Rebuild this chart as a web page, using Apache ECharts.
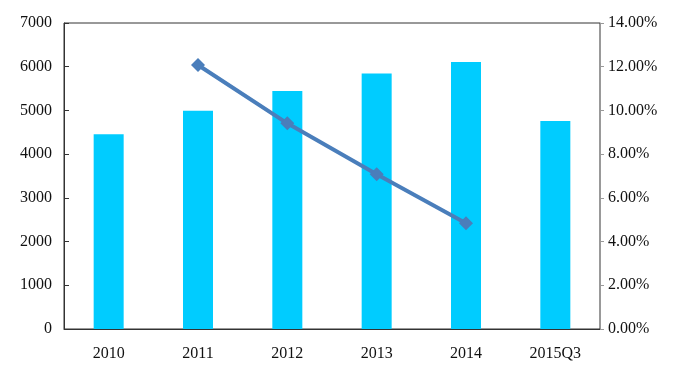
<!DOCTYPE html>
<html><head><meta charset="utf-8">
<script src="https://cdn.jsdelivr.net/npm/echarts@6/dist/echarts.min.js"></script>
<style>html,body{margin:0;padding:0;background:#fff}#c{width:680px;height:371px}</style>
</head><body><div id="c"></div>
<script>
const categories = ['2010','2011','2012','2013','2014','2015Q3'];
const barValues = [4455, 4990, 5445, 5845, 6110, 4760];
const growthValues = [null, 12.08, 9.41, 7.08, 4.84, null];
const leftTicks = [0, 1000, 2000, 3000, 4000, 5000, 6000, 7000];
const rightTicks = [0, 2, 4, 6, 8, 10, 12, 14];

const font = '"Liberation Serif", "Times New Roman", serif';
const chart = echarts.init(document.getElementById('c'));
chart.setOption({
  animation: false,
  grid: {left: 64, right: 80, top: 23, bottom: 42, containLabel: false, outerBoundsMode: 'none',
         show: true, borderColor: '#333', borderWidth: 1},
  xAxis: {
    type: 'category', data: categories, boundaryGap: true,
    axisLine: {lineStyle: {color: '#333', width: 1}},
    axisTick: {inside: true, length: 5, lineStyle: {color: '#333'}},
    axisLabel: {color: '#111', fontFamily: font, fontSize: 16, margin: 17}
  },
  yAxis: [{
    type: 'value', min: leftTicks[0], max: leftTicks[leftTicks.length-1], interval: 1000,
    axisLine: {show: true, lineStyle: {color: '#333'}},
    axisTick: {show: true, inside: true, length: 5, lineStyle: {color: '#333'}},
    splitLine: {show: false},
    axisLabel: {color: '#111', fontFamily: font, fontSize: 16, margin: 12, formatter: v => String(v)}
  }, {
    type: 'value', position: 'right', min: rightTicks[0], max: rightTicks[rightTicks.length-1], interval: 2,
    axisLine: {show: true, lineStyle: {color: '#999'}},
    axisTick: {show: true, inside: false, length: 4, lineStyle: {color: '#999'}},
    splitLine: {show: false},
    axisLabel: {color: '#111', fontFamily: font, fontSize: 16, margin: 8,
      formatter: v => v.toFixed(2) + '%'}
  }],
  series: [{
    type: 'bar', data: barValues, barWidth: 30, yAxisIndex: 0,
    itemStyle: {color: '#00CCFF'}
  }, {
    type: 'line', data: growthValues, yAxisIndex: 1,
    lineStyle: {color: '#4A7EBB', width: 4},
    itemStyle: {color: '#4A7EBB'},
    symbol: 'diamond', symbolSize: 14, connectNulls: false
  }]
});
</script></body></html>
